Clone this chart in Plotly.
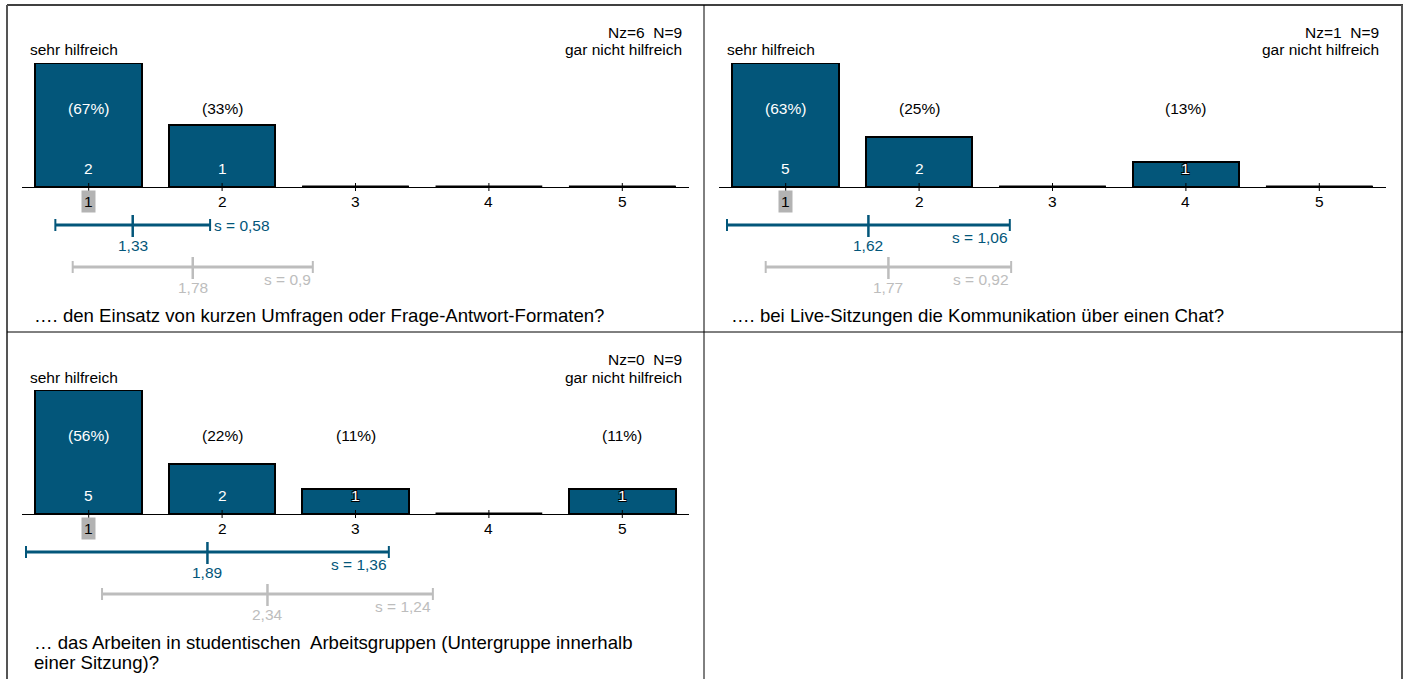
import plotly.graph_objects as go

# --- data ---
categories = [1, 2, 3, 4, 5]
counts_1 = [2, 1, 0, 0, 0]
counts_2 = [5, 2, 0, 1, 0]
counts_3 = [5, 2, 1, 0, 1]
percent_1 = [67, 33, 0, 0, 0]
percent_2 = [63, 25, 0, 13, 0]
percent_3 = [56, 22, 11, 0, 11]
means = [1.33, 1.62, 1.89]
sds = [0.58, 1.06, 1.36]
ref_means = [1.78, 1.77, 2.34]
ref_sds = [0.9, 0.92, 1.24]
medians = [1, 1, 1]
nz = [6, 1, 0]
n_total = [9, 9, 9]
questions = [
    '…. den Einsatz von kurzen Umfragen oder Frage-Antwort-Formaten?',
    '…. bei Live-Sitzungen die Kommunikation über einen Chat?',
    '… das Arbeiten in studentischen  Arbeitsgruppen (Untergruppe innerhalb\neiner Sitzung)?',
]
left_label = 'sehr hilfreich'
right_label = 'gar nicht hilfreich'

W, H = 1406, 679
BLUE = '#03567a'
GREY = '#bdbdbd'
FONT = 'Liberation Sans, Arial, sans-serif'
FS = 15.5


def px(x):
    return x / W


def py(y):
    return 1 - y / H


def label(x, y, text, xref='paper', size=FS, color='black', xanchor='center', **kw):
    return dict(x=x, y=y, xref=xref, yref='paper', text=text, showarrow=False,
                xanchor=xanchor, yanchor='middle',
                font=dict(size=size, color=color, family=FONT), **kw)


fig = go.Figure()
shapes = []
annotations = []

panels = [(7, 5), (704, 5), (7, 332)]
all_counts = [counts_1, counts_2, counts_3]
all_pct = [percent_1, percent_2, percent_3]

for i, (left, top) in enumerate(panels):
    counts = all_counts[i]
    pct = all_pct[i]
    xa = 'x' if i == 0 else f'x{i + 1}'
    ya = 'y' if i == 0 else f'y{i + 1}'
    base = top + 182
    bar_top = top + 58
    cmax = max(counts)

    fig.add_trace(go.Bar(
        x=categories, y=counts, width=0.8, xaxis=xa, yaxis=ya,
        marker=dict(color=BLUE, line=dict(color='black', width=2)),
        hoverinfo='skip', showlegend=False))

    layout_key = 'xaxis' if i == 0 else f'xaxis{i + 1}'
    ylayout_key = 'yaxis' if i == 0 else f'yaxis{i + 1}'
    fig.update_layout(**{
        layout_key: dict(domain=[px(left + 15), px(left + 682)], range=[0.5, 5.5],
                         anchor=ya, showline=True, linecolor='black', linewidth=1,
                         showgrid=False, zeroline=False, showticklabels=False, ticks=''),
        ylayout_key: dict(domain=[py(base), py(bar_top)], range=[0, cmax], anchor=xa,
                          visible=False, showgrid=False, zeroline=False),
    })

    for c, n, p in zip(categories, counts, pct):
        # zero bars drawn as a flat outline on the baseline
        if n == 0:
            shapes.append(dict(type='line', xref=xa, yref=ya, x0=c - 0.4, x1=c + 0.4,
                               y0=0, y1=0, line=dict(color='black', width=3)))
        # tick marks crossing the baseline
        shapes.append(dict(type='line', xref=xa, yref='paper', x0=c, x1=c,
                           y0=py(base - 4), y1=py(base + 4), line=dict(color='black', width=1)))
        # tick labels, median highlighted
        annotations.append(label(c, py(top + 196), str(c), xref=xa,
                                 bgcolor='#b3b3b3' if c == medians[i] else None, borderpad=2))
        if n > 0:
            h = n / cmax * 124
            annotations.append(label(c, py(top + 103), f'({p}%)', xref=xa,
                                     color='white' if h > 90 else 'black'))
            a = label(c, py(top + 163), str(n), xref=xa, color='white')
            if h < 40:
                a['font']['shadow'] = '1px 1px 0 #000, -1px -1px 0 #000, 1px -1px 0 #000, -1px 1px 0 #000'
            annotations.append(a)

    # header texts
    annotations.append(label(px(left + 21), py(top + 45), left_label, xanchor='left'))
    annotations.append(label(px(left + 677), py(top + 27), f'Nz={nz[i]}  N={n_total[i]}',
                             xanchor='right'))
    annotations.append(label(px(left + 677), py(top + 45), right_label, xanchor='right'))
    for k, line in enumerate(questions[i].split('\n')):
        annotations.append(label(px(left + 25), py(top + 310 + 20 * k), line,
                                 xanchor='left', size=18.6))

    # mean / standard deviation lines
    for m, s, yl, col in [(means[i], sds[i], top + 220, BLUE),
                          (ref_means[i], ref_sds[i], top + 262, GREY)]:
        shapes.append(dict(type='line', xref=xa, yref='paper', x0=m - s, x1=m + s,
                           y0=py(yl), y1=py(yl), line=dict(color=col, width=3)))
        for e in (m - s, m + s):
            shapes.append(dict(type='line', xref=xa, yref='paper', x0=e, x1=e,
                               y0=py(yl - 6), y1=py(yl + 6), line=dict(color=col, width=2)))
        shapes.append(dict(type='line', xref=xa, yref='paper', x0=m, x1=m,
                           y0=py(yl - 10), y1=py(yl + 12), line=dict(color=col, width=2.5)))
        annotations.append(label(m, py(yl + 20), str(m).replace('.', ','), xref=xa, color=col))
        s_txt = 's = ' + str(s).replace('.', ',')
        if col == BLUE and s < 0.75:
            annotations.append(label(m + s, py(yl + 1), s_txt, xref=xa, color=col,
                                     xanchor='left', xshift=2))
        else:
            annotations.append(label(m + s, py(yl + 12), s_txt, xref=xa, color=col,
                                     xanchor='right'))

# table frame
frame = [
    (7, 5, 1403, 5, 'black', 1.5),
    (7, 5, 7, 690, '#555555', 2),
    (1402, 5, 1402, 690, '#555555', 2),
    (704, 5, 704, 690, 'black', 1),
    (7, 332, 1403, 332, 'black', 1),
]
for x0, y0, x1, y1, c, w in frame:
    shapes.append(dict(type='line', xref='paper', yref='paper', x0=px(x0), x1=px(x1),
                       y0=py(y0), y1=py(y1), line=dict(color=c, width=w)))

fig.update_layout(
    width=W, height=H,
    margin=dict(l=0, r=0, t=0, b=0),
    paper_bgcolor='white', plot_bgcolor='rgba(0,0,0,0)',
    shapes=shapes, annotations=annotations,
    bargap=0, showlegend=False,
    font=dict(family=FONT),
)

fig.write_html('out.html', config={'displayModeBar': False},
               post_script="document.body.style.margin='0';document.body.style.overflow='hidden';")
